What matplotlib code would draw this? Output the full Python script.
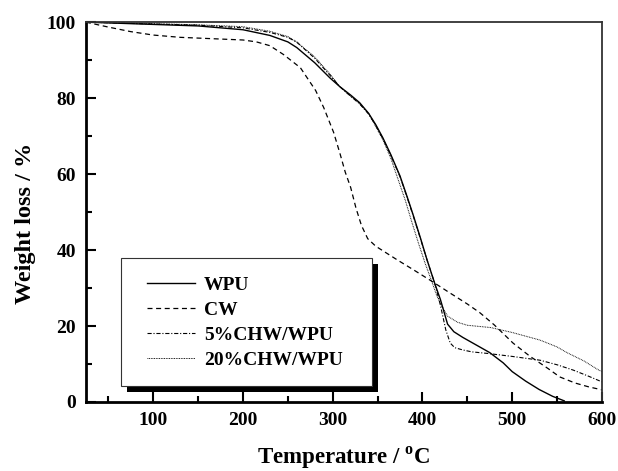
import matplotlib
matplotlib.use("Agg")
import matplotlib.pyplot as plt
from matplotlib.patches import Rectangle
from matplotlib.lines import Line2D
from matplotlib.legend_handler import HandlerLine2D
from matplotlib.ticker import MultipleLocator

plt.rcParams['font.family'] = ['Liberation Serif', 'DejaVu Serif']
plt.rcParams['font.weight'] = 'bold'
plt.rcParams['mathtext.fontset'] = 'custom'
plt.rcParams['mathtext.rm'] = 'Liberation Serif'
plt.rcParams['mathtext.bf'] = 'Liberation Serif:bold'
plt.rcParams['lines.scale_dashes'] = False

# TGA curves (temperature in C, weight in %)
wpu_t = [25, 50, 100, 150, 200, 230, 250, 260, 280, 297, 308, 320, 330, 340, 348, 356,
         365, 375, 383, 390, 398, 405, 414, 420, 428, 435, 445, 460, 475, 490, 500, 515,
         530, 545, 558]
wpu_w = [100, 99.8, 99.4, 99.0, 98.0, 96.5, 94.8, 93.3, 89.3, 85.3, 83.0, 80.8, 78.8,
         76.0, 73.0, 69.5, 65.0, 59.5, 54.0, 49.0, 43.0, 37.5, 31.0, 27.0, 20.5, 18.5,
         17.0, 15.0, 13.0, 10.3, 8.0, 5.5, 3.3, 1.5, 0.3]

cw_t = [25, 50, 75, 100, 130, 160, 200, 215, 230, 245, 264, 281, 290, 301, 308, 314, 320,
        326, 332, 339, 348, 356, 372, 390, 409, 430, 450, 464, 480, 501, 520, 540, 553,
        570, 585, 600]
cw_w = [100, 98.7, 97.5, 96.6, 96.0, 95.7, 95.3, 94.8, 93.8, 91.5, 88.0, 82.0, 77.5, 71.0,
        65.5, 60.5, 56.5, 51.0, 46.5, 43.0, 41.0, 39.8, 37.4, 34.8, 32.0, 28.8, 25.8,
        23.5, 20.3, 15.5, 12.0, 8.8, 6.6, 5.0, 4.0, 3.2]

chw5_t = [25, 100, 150, 200, 230, 250, 260, 280, 297, 308, 320, 330, 340, 348, 356, 365,
          375, 383, 390, 398, 405, 414, 420, 426, 431, 436, 445, 455, 472, 500, 531, 550,
          568, 585, 600]
chw5_w = [100, 99.5, 99.2, 98.5, 97.3, 96.0, 94.7, 90.5, 86.0, 83.0, 80.5, 78.5, 75.8,
          72.8, 69.3, 64.8, 59.3, 53.8, 48.8, 42.8, 37.5, 31.0, 25.5, 19.0, 15.5, 14.3,
          13.7, 13.2, 12.8, 12.0, 11.0, 9.8, 8.4, 6.8, 5.3]

chw20_t = [25, 100, 150, 200, 230, 250, 260, 280, 297, 308, 320, 330, 340, 348, 356, 365,
           373, 381, 388, 396, 403, 410, 416, 421, 428, 439, 450, 476, 500, 531, 550, 561,
           580, 595, 600]
chw20_w = [100, 99.6, 99.3, 98.8, 97.6, 96.2, 94.8, 90.8, 86.3, 83.0, 80.5, 78.5, 76.0,
           72.5, 69.0, 64.0, 58.5, 53.0, 47.5, 41.5, 36.5, 32.0, 28.0, 25.5, 22.6, 21.0,
           20.2, 19.6, 18.3, 16.3, 14.5, 13.0, 10.8, 8.6, 8.0]

labels = ['WPU', 'CW', '5%CHW/WPU', '20%CHW/WPU']

fig = plt.figure(figsize=(6.18, 4.71), dpi=100)
ax = fig.add_axes([0.139, 0.1465, 0.835, 0.8065])

ax.plot(wpu_t, wpu_w, color='black', lw=1.0, label=labels[0])
ax.plot(cw_t, cw_w, color='black', lw=0.9, dashes=(3.6, 2.6), label=labels[1])
ax.plot(chw5_t, chw5_w, color='black', lw=0.8, dashes=(3.0, 1.3, 0.8, 1.3), label=labels[2])
ax.plot(chw20_t, chw20_w, color='black', lw=0.7, dashes=(0.6, 0.6), label=labels[3])

ax.set_xlim(25, 600)
ax.set_ylim(0, 100)
ax.xaxis.set_major_locator(MultipleLocator(100))
ax.xaxis.set_minor_locator(MultipleLocator(50))
ax.yaxis.set_major_locator(MultipleLocator(20))
ax.yaxis.set_minor_locator(MultipleLocator(10))
ax.tick_params(which='both', direction='in', top=False, right=False, labelsize=14, width=1.5)
ax.tick_params(which='major', length=7)
ax.tick_params(which='minor', length=4)
ax.tick_params(axis='x', pad=7)
ax.tick_params(axis='y', pad=7)
for lab in ax.get_xticklabels() + ax.get_yticklabels():
    lab.set_fontweight('bold')

ax.spines['left'].set_linewidth(2.0)
ax.spines['bottom'].set_linewidth(2.0)
ax.spines['top'].set_linewidth(1.3)
ax.spines['right'].set_linewidth(1.3)
ax.spines['top'].set_color('#333333')
ax.spines['right'].set_color('#333333')

ax.set_xlabel(r'Temperature / $^{\mathbf{o}}$C', fontsize=16.5, fontweight='bold')
ax.set_ylabel('Weight loss / %', fontsize=17.5, fontweight='bold')
ax.xaxis.set_label_coords(0.5, -0.112)
ax.yaxis.set_label_coords(-0.097, 0.47)

leg = ax.legend(loc='lower left', bbox_to_anchor=(0.068, 0.042, 0.486, 0.334), mode='expand',
                fancybox=False, edgecolor='#333333', framealpha=1, borderaxespad=0,
                prop={'size': 14, 'weight': 'bold'}, handlelength=2.92, handletextpad=0.45,
                labelspacing=0.38, borderpad=0.9,
                handler_map={Line2D: HandlerLine2D(xpad=0.42)})
leg.get_frame().set_linewidth(0.8)

# solid black drop shadow behind the legend box
fig.canvas.draw()
bb = leg.get_frame().get_window_extent()
inv = ax.transAxes.inverted()
(x0, y0), (x1, y1) = inv.transform([[bb.x0 + 6, bb.y0 - 6], [bb.x1 + 6, bb.y1 - 6]])
ax.add_patch(Rectangle((x0, y0), x1 - x0, y1 - y0, transform=ax.transAxes,
                       facecolor='black', edgecolor='none', zorder=4.5, clip_on=False))

fig.savefig('out.png', dpi=100)
